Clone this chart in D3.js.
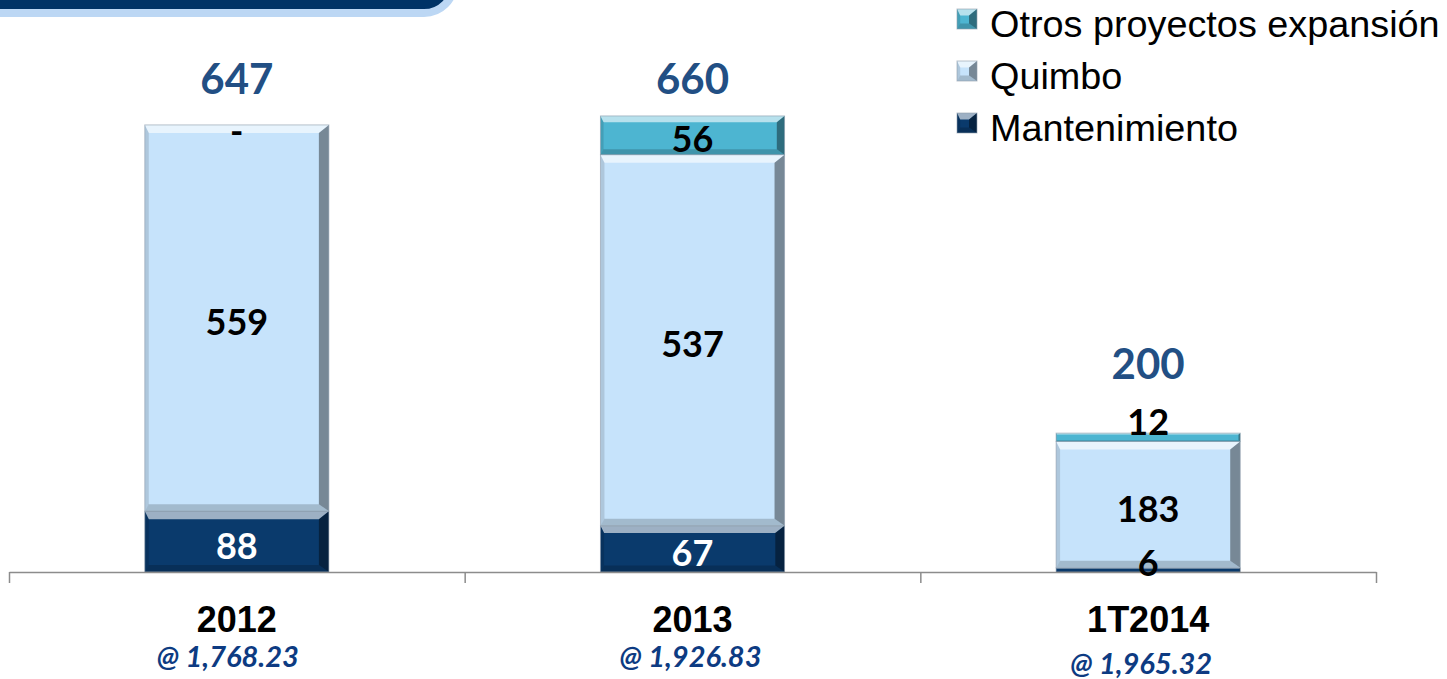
<!DOCTYPE html>
<html>
<head>
<meta charset="utf-8">
<script src="https://cdn.jsdelivr.net/npm/d3@7"></script>
<style>
  html, body { margin: 0; padding: 0; background: #fff; }
  svg { display: block; }
</style>
</head>
<body>
<div id="chart"></div>
<script>
const categories = ['2012', '2013', '1T2014'];
const rates = ['@ 1,768.23', '@ 1,926.83', '@ 1,965.32'];
const mantenimiento = [88, 67, 6];
const quimbo = [559, 537, 183];
const otros = [0, 56, 12];
const totals = [647, 660, 200];
const seriesKeys = ['mantenimiento', 'quimbo', 'otros'];
const seriesNames = ['Mantenimiento', 'Quimbo', 'Otros proyectos expansión'];

const W = 1447, H = 679;
const colors = { mantenimiento: '#0a3a6c', quimbo: '#c6e3fb', otros: '#4db5d1' };
const labelColors = { mantenimiento: '#ffffff', quimbo: '#000000', otros: '#000000' };

const svg = d3.select('#chart').append('svg')
  .attr('width', W)
  .attr('height', H);

// title banner, cut by the top of the picture
svg.append('rect')
  .attr('x', -30).attr('y', -60)
  .attr('width', 484).attr('height', 73)
  .attr('rx', 30)
  .attr('fill', '#003366')
  .attr('stroke', '#bcd7f4')
  .attr('stroke-width', 8);

const rows = categories.map((c, i) => ({
  category: c,
  mantenimiento: mantenimiento[i],
  quimbo: quimbo[i],
  otros: otros[i],
}));
const stacked = d3.stack().keys(seriesKeys)(rows);

const x = d3.scaleBand()
  .domain(categories)
  .range([9, 1376])
  .paddingInner(0.596)
  .paddingOuter(0.298);

const y = d3.scaleLinear()
  .domain([0, 700])
  .range([572, 88.3]);

// bevelled box like the office 3d bars
function bevel(g, bx, by, bw, bh, fill, b) {
  const x1 = bx + bw, y1 = by + bh;
  const l = b * 0.4;
  g.append('rect')
    .attr('x', bx).attr('y', by)
    .attr('width', bw).attr('height', bh)
    .attr('fill', fill);
  const faces = [
    { pts: [[bx, by], [x1, by], [x1 - b, by + b * 0.8], [bx + l, by + b * 0.8]], c: '#fff', o: 0.6 },
    { pts: [[bx, y1], [x1, y1], [x1 - b, y1 - b * 0.7], [bx + l, y1 - b * 0.7]], c: '#000', o: 0.18 },
    { pts: [[bx, by], [bx + l, by + b * 0.8], [bx + l, y1 - b * 0.7], [bx, y1]], c: '#000', o: 0.12 },
    { pts: [[x1, by], [x1 - b, by + b * 0.8], [x1 - b, y1 - b * 0.7], [x1, y1]], c: '#000', o: 0.4 },
  ];
  faces.forEach(f => {
    g.append('polygon')
      .attr('points', f.pts.map(p => p.join(',')).join(' '))
      .attr('fill', f.c)
      .attr('fill-opacity', f.o);
  });
  g.append('rect')
    .attr('x', bx).attr('y', by)
    .attr('width', bw).attr('height', bh)
    .attr('fill', 'none')
    .attr('stroke', '#8f9cab')
    .attr('stroke-opacity', 0.6)
    .attr('stroke-width', 1);
}

const bars = svg.append('g');
stacked.forEach(layer => {
  layer.forEach(d => {
    const h = y(d[0]) - y(d[1]);
    if (h <= 0) return;
    const b = Math.min(10, h * 0.2);
    bevel(bars.append('g'), x(d.data.category), y(d[1]), x.bandwidth(), h, colors[layer.key], b);
  });
});

// axis with ticks between the categories
const tickScale = d3.scaleLinear().domain([0, categories.length]).range(x.range());
const axis = svg.append('g')
  .attr('transform', 'translate(0,572)')
  .call(d3.axisBottom(tickScale).ticks(categories.length).tickFormat('').tickSizeOuter(0).tickSizeInner(11));
axis.selectAll('path, line').attr('stroke', '#8c8c8c').attr('stroke-width', 1.5);

// segment labels
const segFont = 36;
stacked.forEach((layer, li) => {
  layer.forEach(d => {
    const top = y(d[1]), bottom = y(d[0]);
    const h = bottom - top;
    let cy = (top + bottom) / 2 + 4;
    let fill = labelColors[layer.key];
    if (h === 0) cy = top + 6;
    else if (h < 20 && li === stacked.length - 1) cy = top - 11;
    else if (h < 20 && li === 0) { cy = bottom - 8.5; fill = '#000'; }
    const v = d[1] - d[0];
    svg.append('text')
      .attr('x', x(d.data.category) + x.bandwidth() / 2)
      .attr('y', cy + segFont * 0.36)
      .attr('text-anchor', 'middle')
      .attr('font-family', 'Lato, sans-serif')
      .attr('font-weight', 700)
      .attr('font-size', segFont)
      .attr('fill', fill)
      .text(v === 0 ? '-' : v);
  });
});

// totals above the bars
const totFont = 42;
const maxTotal = d3.max(totals);
totals.forEach((t, i) => {
  const topSeg = stacked[stacked.length - 1][i];
  const th = y(topSeg[0]) - y(topSeg[1]);
  const tiny = th > 0 && th < 20;
  const cy = Math.max(y(t) - (tiny ? 70 : 46), y(maxTotal) - 37);
  svg.append('text')
    .attr('x', x(categories[i]) + x.bandwidth() / 2)
    .attr('y', cy + totFont * 0.36)
    .attr('text-anchor', 'middle')
    .attr('font-family', 'Lato, sans-serif')
    .attr('font-weight', 700)
    .attr('font-size', totFont)
    .attr('fill', '#224f84')
    .text(t);
});

// category names and exchange rates
categories.forEach((c, i) => {
  const cx = x(c) + x.bandwidth() / 2;
  svg.append('text')
    .attr('x', cx).attr('y', 632)
    .attr('text-anchor', 'middle')
    .attr('font-family', '"Liberation Sans", Arial, sans-serif')
    .attr('font-weight', 700)
    .attr('font-size', 36)
    .attr('fill', '#000')
    .text(c);
  svg.append('text')
    .attr('x', cx - (i === 0 ? 9 : i === 2 ? 7 : 2)).attr('y', i === 2 ? 674 : 667)
    .attr('text-anchor', 'middle')
    .attr('font-family', 'Lato, sans-serif')
    .attr('font-weight', 700)
    .attr('font-style', 'italic')
    .attr('font-size', 29)
    .attr('fill', '#0d3b82')
    .text(rates[i]);
});

// legend, top series first
const legend = svg.append('g');
seriesKeys.slice().reverse().forEach((k, i) => {
  const ly = 37 + i * 52;
  bevel(legend.append('g'), 957, ly - 28, 20, 20, colors[k], 8);
  legend.append('text')
    .attr('x', 990).attr('y', ly)
    .attr('font-family', '"Liberation Sans", Arial, sans-serif')
    .attr('font-size', 37.8)
    .attr('fill', '#000')
    .text(seriesNames[seriesKeys.indexOf(k)]);
});
</script>
</body>
</html>
